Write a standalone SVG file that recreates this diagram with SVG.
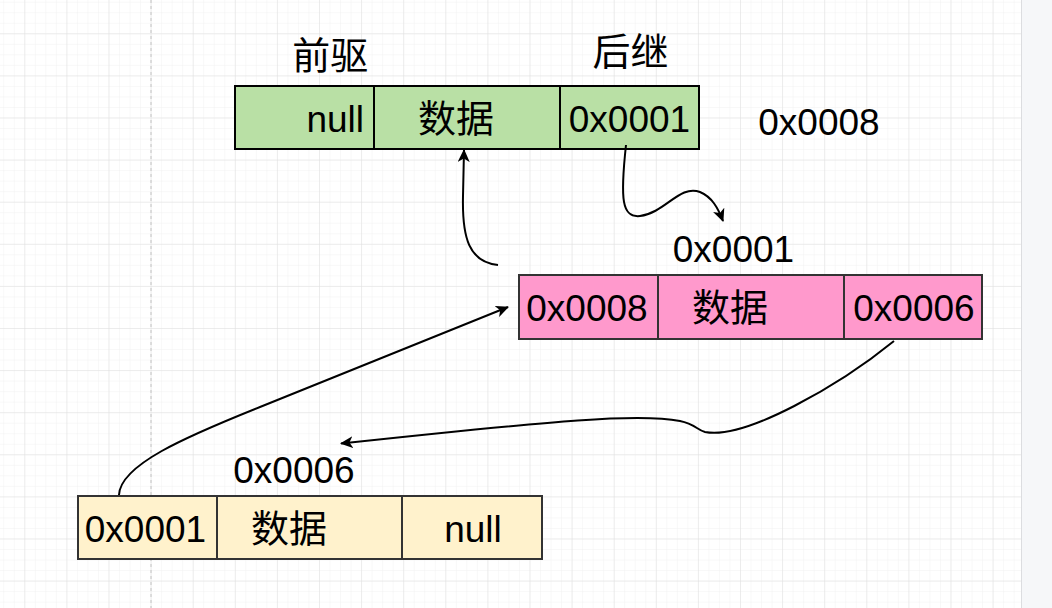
<svg xmlns="http://www.w3.org/2000/svg" width="1052" height="608" viewBox="0 0 1052 608">
<style>
.t{font-family:"Liberation Sans","Noto Sans CJK SC",sans-serif;font-size:37px;fill:#000;text-anchor:middle}
.c{font-family:"Noto Sans CJK SC","Liberation Sans",sans-serif;font-size:38px;fill:#000;text-anchor:middle}
.cell-g{fill:#b9e0a5;stroke:#000;stroke-width:2}
.cell-p{fill:#ff99cc;stroke:#333;stroke-width:2}
.cell-y{fill:#fff2cc;stroke:#333;stroke-width:2}
.edge{fill:none;stroke:#000;stroke-width:2;marker-end:url(#arr)}
</style>
<defs>
<pattern id="minor" x="24.3" y="33.3" width="10.525" height="10.525" patternUnits="userSpaceOnUse">
<path d="M0 0H10.525M0 0V10.525" stroke="#f1f1f1" stroke-width="1" fill="none"/>
</pattern>
<pattern id="major" x="24.3" y="33.3" width="42.1" height="42.1" patternUnits="userSpaceOnUse">
<path d="M0 0H42.1M0 0V42.1" stroke="#e0e0e0" stroke-width="1" fill="none"/>
</pattern>
<marker id="arr" viewBox="0 0 13 12" refX="12" refY="6" markerWidth="13" markerHeight="12" markerUnits="userSpaceOnUse" orient="auto">
<path d="M0 0L13 6L0 12L3.5 6Z" fill="#000"/>
</marker>
</defs>
<g id="background">
<rect x="0" y="0" width="1052" height="608" fill="#ffffff"/>
<rect x="0" y="0" width="1021" height="608" fill="url(#minor)"/>
<rect x="0" y="0" width="1021" height="608" fill="url(#major)"/>
<line x1="151" y1="0" x2="151" y2="608" stroke="#c4c4c4" stroke-width="1" stroke-dasharray="3 3"/>
<rect x="1021.5" y="0" width="31" height="608" fill="#f6f7f9"/>
<line x1="1021.5" y1="0" x2="1021.5" y2="608" stroke="#dcdde0" stroke-width="1"/>
</g>
<g id="labels">
<text class="c" x="330.3" y="69">前驱</text>
<text class="c" x="630.5" y="64.5">后继</text>
<text class="t" x="819" y="135">0x0008</text>
<text class="t" x="733.5" y="261.5">0x0001</text>
<text class="t" x="294" y="483.3">0x0006</text>
</g>
<g id="node-green">
<rect class="cell-g" x="235" y="86" width="139" height="63"/>
<rect class="cell-g" x="374" y="86" width="186" height="63"/>
<rect class="cell-g" x="560" y="86" width="139" height="63"/>
<text class="t" x="364" y="131.7" style="text-anchor:end">null</text>
<text class="c" x="456" y="132.3">数据</text>
<text class="t" x="629.5" y="131.7">0x0001</text>
</g>
<g id="node-pink">
<rect class="cell-p" x="519" y="275" width="139" height="64"/>
<rect class="cell-p" x="658" y="275" width="186" height="64"/>
<rect class="cell-p" x="844" y="275" width="138" height="64"/>
<text class="t" x="587" y="321">0x0008</text>
<text class="c" x="730" y="321">数据</text>
<text class="t" x="914" y="321">0x0006</text>
</g>
<g id="node-yellow">
<rect class="cell-y" x="78" y="496" width="139" height="63"/>
<rect class="cell-y" x="217" y="496" width="185" height="63"/>
<rect class="cell-y" x="402" y="496" width="140" height="63"/>
<text class="t" x="145.5" y="541.7">0x0001</text>
<text class="c" x="289" y="542.3">数据</text>
<text class="t" x="473" y="541.7">null</text>
</g>
<g id="connectors">
<path class="edge" d="M498 265C469 262 462 238 463 196L464 150"/>
<path class="edge" d="M626 145C620 200 622 218 640 216C665 213 680 184 700 192C712 197 718 208 723 221"/>
<path class="edge" d="M119 495C120 465 185 437 260 407L508 307"/>
<path class="edge" d="M894 341C840 385 745 440 705 432C697 430 695 424 680 421C640 413 560 420 341 443.5"/>
</g>
</svg>
